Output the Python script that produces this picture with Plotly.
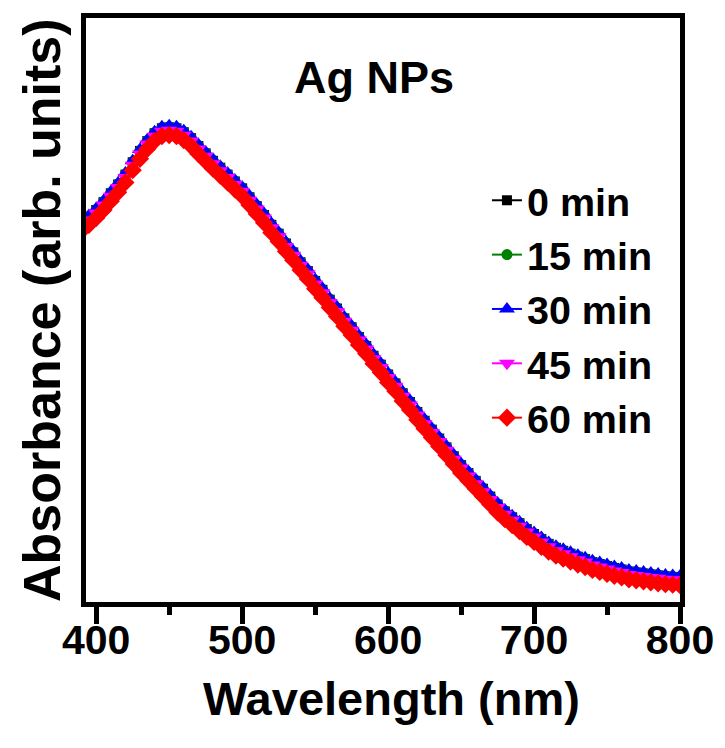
import plotly.graph_objects as go

# wavelength grid (nm) shared by all spectra
wavelength = [390, 395, 400, 405, 410, 415, 420, 425, 430, 435,
              440, 445, 450, 455, 460, 465, 470, 475, 480, 485,
              490, 495, 500, 505, 510, 515, 520, 525, 530, 535,
              540, 545, 550, 555, 560, 565, 570, 575, 580, 585,
              590, 595, 600, 605, 610, 615, 620, 625, 630, 635,
              640, 645, 650, 655, 660, 665, 670, 675, 680, 685,
              690, 695, 700, 705, 710, 715, 720, 725, 730, 735,
              740, 745, 750, 755, 760, 765, 770, 775, 780, 785,
              790, 795, 800]

# absorbance (arb. units)
abs_0 = [0.764, 0.776, 0.790, 0.806, 0.824, 0.842, 0.862, 0.887, 0.910, 0.930,
         0.946, 0.956, 0.958, 0.956, 0.948, 0.936, 0.920, 0.905, 0.890, 0.876,
         0.862, 0.848, 0.834, 0.816, 0.798, 0.780, 0.760, 0.742, 0.722, 0.704,
         0.684, 0.666, 0.646, 0.628, 0.608, 0.590, 0.570, 0.552, 0.532, 0.514,
         0.494, 0.476, 0.456, 0.438, 0.418, 0.400, 0.380, 0.362, 0.344, 0.326,
         0.308, 0.290, 0.272, 0.256, 0.240, 0.224, 0.208, 0.192, 0.178, 0.166,
         0.154, 0.142, 0.132, 0.122, 0.112, 0.104, 0.098, 0.092, 0.086, 0.081,
         0.075, 0.071, 0.067, 0.063, 0.060, 0.056, 0.054, 0.052, 0.050, 0.048,
         0.046, 0.045, 0.044]

abs_15 = [0.765, 0.777, 0.791, 0.807, 0.825, 0.843, 0.863, 0.888, 0.911, 0.931,
          0.947, 0.957, 0.959, 0.957, 0.949, 0.937, 0.921, 0.906, 0.891, 0.877,
          0.863, 0.849, 0.835, 0.817, 0.799, 0.781, 0.761, 0.743, 0.723, 0.705,
          0.685, 0.667, 0.647, 0.629, 0.609, 0.591, 0.571, 0.553, 0.533, 0.515,
          0.495, 0.477, 0.457, 0.439, 0.419, 0.401, 0.381, 0.363, 0.345, 0.327,
          0.309, 0.291, 0.273, 0.257, 0.241, 0.225, 0.209, 0.193, 0.179, 0.167,
          0.155, 0.143, 0.133, 0.123, 0.113, 0.105, 0.099, 0.093, 0.087, 0.082,
          0.076, 0.072, 0.068, 0.064, 0.061, 0.057, 0.055, 0.053, 0.051, 0.049,
          0.047, 0.046, 0.045]

abs_30 = [0.767, 0.779, 0.793, 0.809, 0.827, 0.845, 0.865, 0.890, 0.913, 0.933,
          0.949, 0.959, 0.961, 0.959, 0.951, 0.939, 0.923, 0.908, 0.893, 0.879,
          0.865, 0.851, 0.837, 0.819, 0.801, 0.783, 0.763, 0.745, 0.725, 0.707,
          0.687, 0.669, 0.649, 0.631, 0.611, 0.593, 0.573, 0.555, 0.535, 0.517,
          0.497, 0.479, 0.459, 0.441, 0.421, 0.403, 0.383, 0.365, 0.347, 0.329,
          0.311, 0.293, 0.275, 0.259, 0.243, 0.227, 0.211, 0.195, 0.181, 0.169,
          0.157, 0.145, 0.135, 0.125, 0.115, 0.107, 0.101, 0.095, 0.089, 0.084,
          0.078, 0.074, 0.070, 0.066, 0.063, 0.059, 0.057, 0.055, 0.053, 0.051,
          0.049, 0.048, 0.047]

abs_45 = [0.758, 0.770, 0.784, 0.800, 0.818, 0.836, 0.856, 0.881, 0.904, 0.924,
          0.940, 0.950, 0.952, 0.950, 0.942, 0.930, 0.914, 0.899, 0.884, 0.870,
          0.856, 0.842, 0.828, 0.810, 0.792, 0.774, 0.754, 0.736, 0.716, 0.698,
          0.678, 0.660, 0.640, 0.622, 0.602, 0.584, 0.564, 0.546, 0.526, 0.508,
          0.488, 0.470, 0.450, 0.432, 0.412, 0.394, 0.374, 0.356, 0.338, 0.320,
          0.302, 0.284, 0.266, 0.250, 0.234, 0.218, 0.202, 0.186, 0.172, 0.160,
          0.148, 0.136, 0.126, 0.116, 0.106, 0.098, 0.092, 0.086, 0.080, 0.075,
          0.069, 0.065, 0.061, 0.057, 0.054, 0.050, 0.048, 0.046, 0.044, 0.042,
          0.040, 0.039, 0.038]

abs_60 = [0.748, 0.760, 0.774, 0.790, 0.808, 0.826, 0.846, 0.871, 0.894, 0.914,
          0.930, 0.940, 0.942, 0.940, 0.932, 0.920, 0.904, 0.889, 0.874, 0.860,
          0.846, 0.832, 0.818, 0.800, 0.782, 0.764, 0.744, 0.726, 0.706, 0.688,
          0.668, 0.650, 0.630, 0.612, 0.592, 0.574, 0.554, 0.536, 0.516, 0.498,
          0.478, 0.460, 0.440, 0.422, 0.402, 0.384, 0.364, 0.346, 0.328, 0.310,
          0.292, 0.274, 0.256, 0.240, 0.224, 0.208, 0.192, 0.176, 0.162, 0.150,
          0.138, 0.126, 0.116, 0.106, 0.096, 0.088, 0.082, 0.076, 0.070, 0.065,
          0.059, 0.055, 0.051, 0.047, 0.044, 0.040, 0.038, 0.036, 0.034, 0.032,
          0.030, 0.029, 0.028]

labels = ["0 min", "15 min", "30 min", "45 min", "60 min"]
colors = ["#000000", "#008000", "#0000ff", "#ff00ff", "#ff0000"]
symbols = ["square", "circle", "triangle-up", "triangle-down", "diamond"]
sizes = [10, 11, 14, 14, 14]
series = [abs_0, abs_15, abs_30, abs_45, abs_60]

FONT = "Arial, Liberation Sans, sans-serif"

fig = go.Figure()
for name, col, sym, sz, ys in zip(labels, colors, symbols, sizes, series):
    fig.add_trace(go.Scatter(
        x=wavelength, y=ys, name=name, legendgroup=name,
        mode="lines+markers",
        line=dict(color=col, width=2),
        marker=dict(symbol=sym, size=sz, color=col, line=dict(width=0)),
    ))

fig.add_annotation(text="<b>Ag NPs</b>", x=0.485, y=0.898, xref="paper", yref="paper",
                   xanchor="center", yanchor="middle", showarrow=False,
                   font=dict(family=FONT, size=45, color="black"))

# axis titles as annotations so they can be placed like the original
fig.add_annotation(text="<b>Wavelength (nm)</b>", x=0.515, y=-0.166, xref="paper", yref="paper",
                   xanchor="center", yanchor="middle", showarrow=False,
                   font=dict(family=FONT, size=47, color="black"))
fig.add_annotation(text="<b>Absorbance (arb. units)</b>", x=-0.074, y=0.5, xref="paper", yref="paper",
                   xanchor="center", yanchor="middle", textangle=-90, showarrow=False,
                   font=dict(family=FONT, size=52, color="black"))

fig.update_layout(
    width=725, height=748,
    margin=dict(l=78, r=53, t=5, b=154),
    paper_bgcolor="white", plot_bgcolor="white",
    font=dict(family=FONT, color="black"),
    showlegend=True,
    legend=dict(x=0.675, y=0.743, xanchor="left", yanchor="top",
                bgcolor="rgba(0,0,0,0)", tracegroupgap=0,
                font=dict(family=FONT, size=39.5, color="black", weight="bold")),
)

fig.update_xaxes(
    range=[393, 800], tickvals=[400, 500, 600, 700, 800],
    ticks="outside", ticklen=17, tickwidth=5, tickcolor="black",
    ticklabelstandoff=-19,
    minor=dict(ticks="outside", ticklen=8, tickwidth=5, tickcolor="black", dtick=50, tick0=400),
    showline=True, linewidth=5, linecolor="black", mirror=True,
    showgrid=False, zeroline=False,
    tickfont=dict(family=FONT, size=41, color="black", weight="bold"),
)
fig.update_yaxes(
    range=[-0.006, 1.18], showticklabels=False, ticks="",
    showline=True, linewidth=5, linecolor="black", mirror=True,
    showgrid=False, zeroline=False,
)

fig.write_html("out.html")
